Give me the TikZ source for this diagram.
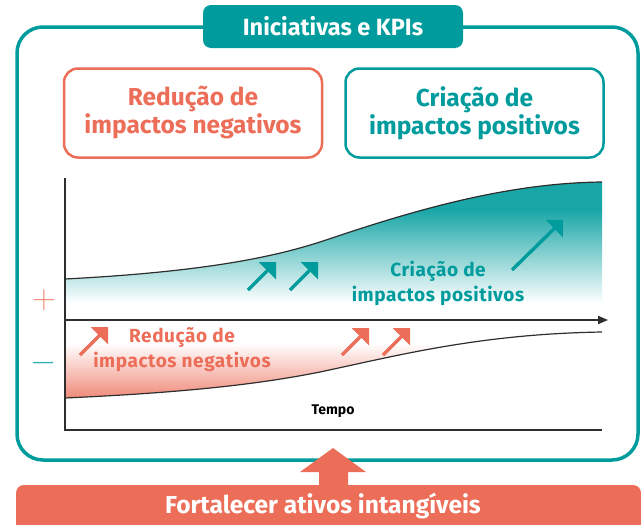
\documentclass[tikz,border=0pt]{standalone}
\usepackage{fontspec}
\setmainfont{Fira Sans}
\newfontfamily\spaced[LetterSpace=3]{Fira Sans}
\usetikzlibrary{shapes}
\usetikzlibrary{arrows}
\usetikzlibrary{positioning}
\definecolor{tealc}{HTML}{009C9D}
\definecolor{salm}{HTML}{EC6D58}
\definecolor{axisc}{HTML}{2E2E2E}
\pgfdeclareverticalshading{tealfade}{100bp}{color(0bp)=(white); color(31bp)=(white); color(65bp)=(tealc!90); color(100bp)=(tealc!90)}
\pgfdeclareverticalshading{salmfade}{100bp}{color(0bp)=(salm!80); color(25bp)=(salm!80); color(60bp)=(white); color(100bp)=(white)}

\begin{document}
\begin{tikzpicture}[x=1pt,y=-1pt,
	box/.style={draw,rounded corners=14pt,line width=2.5pt,minimum width=258pt,minimum height=89pt,align=center,font=\bfseries\fontsize{24.5}{28}\selectfont},
	up/.style={line width=3.4pt,-triangle 90},
	sign/.style={font=\Huge,inner sep=0pt},
	lbl/.style={align=center,font=\spaced\bfseries\fontsize{19}{25}\selectfont}]
	\useasboundingbox (0,0) rectangle (641,525);
	\shade[shading=tealfade] (65,279) .. controls (200,272) and (270,258) .. (320,242) .. controls (400,215) and (500,183) .. (602,182) -- (602,320) -- (65,320) -- cycle;
	\shade[shading=salmfade] (65,398) .. controls (200,392) and (270,382) .. (320,372) .. controls (400,355) and (480,334) .. (602,332) -- (602,320) -- (65,320) -- cycle;
	\draw[axisc,line width=1.2pt] (65,279) .. controls (200,272) and (270,258) .. (320,242) .. controls (400,215) and (500,183) .. (602,182);
	\draw[axisc,line width=1.2pt] (65,398) .. controls (200,392) and (270,382) .. (320,372) .. controls (400,355) and (480,334) .. (602,332);
	\draw[axisc,line width=1.3pt] (65,178) -- (65,430) -- (602,430);
	\draw[axisc,line width=1.3pt,-triangle 45] (65,320) -- (608,320);
	\draw[up,tealc] (248,290) -- (276,262);
	\draw[up,tealc] (290,290) -- (318,262);
	\draw[up,tealc] (512,270) -- (563,220);
	\draw[up,salm] (80,355) -- (108,327);
	\draw[up,salm] (342,355) -- (369,328);
	\draw[up,salm] (383,355) -- (410,328);
	\node[lbl,text=tealc] (crlbl) at (438,283) {Criação de\\impactos positivos};
	\node[lbl,text=salm] (rdlbl) at (182,350) {Redução de\\impactos negativos};
	\node[font=\bfseries\fontsize{14}{16}\selectfont] (tempo) at (333,411) {Tempo};
	\node[sign,text=salm!80] (plus) at (44,300) {\scalebox{1.35}{$+$}};
	\node[sign,text=tealc!80] (minus) at (44,363) {\scalebox{1.35}{$-$}};
	\draw[tealc,line width=3.5pt,rounded corners=26pt] (17,27) rectangle (638,460);
	\node[fill=tealc,text=white,rounded corners=8pt,minimum width=260pt,minimum height=43pt,font=\bfseries\fontsize{23.5}{26}\selectfont] (title) at (333,26.5) {Iniciativas e KPIs};
	\node[box,draw=salm,text=salm] (neg) at (193,113) {Redução de\\impactos negativos};
	\node[box,draw=tealc,text=tealc,right=21pt of neg] (pos) {Criação de\\impactos positivos};
	\fill[salm] (16,525) [rounded corners=8pt] -- (16,485) -- (641,485) [sharp corners] -- (641,525) -- cycle;
	\node[text=white,font=\bfseries\fontsize{24.5}{26}\selectfont] (bar) at (323,506) {Fortalecer ativos intangíveis};
	\fill[salm] (319,486) -- (319,472) -- (300,472) -- (333,448) -- (366,472) -- (348,472) -- (348,486) -- cycle;
\end{tikzpicture}
\end{document}
